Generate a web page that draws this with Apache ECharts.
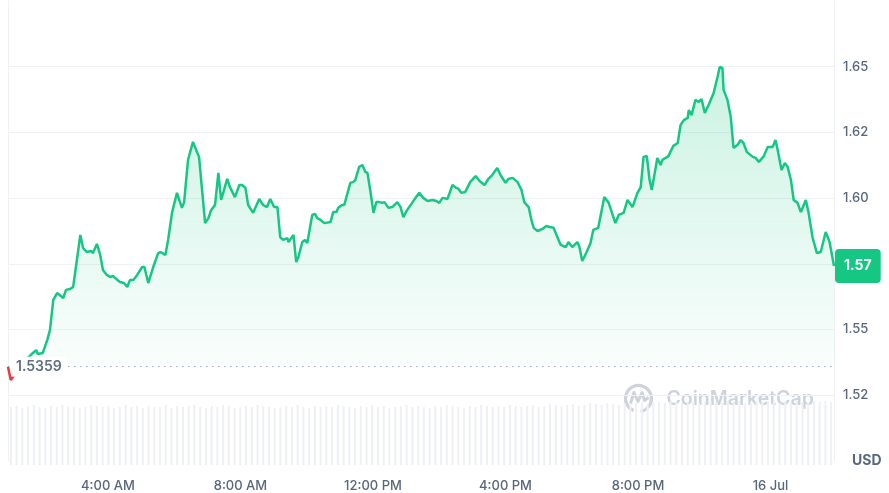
<!DOCTYPE html>
<html>
<head>
<meta charset="utf-8">
<title>Price chart</title>
<script src="https://cdn.jsdelivr.net/npm/echarts@6/dist/echarts.min.js"></script>
<style>
  html, body { margin: 0; padding: 0; background: #fff; }
  #chart { width: 889px; height: 493px; }
</style>
</head>
<body>
<div id="chart"></div>
<script>
// --- 数据 ---
// 起始时间 00:59 (7/15)，单位：分钟
const startMinute = 59
const endMinute = 1555
const openPrice = 1.5359

// 相对起点的分钟偏移
const minutes = [
  0, 5, 29, 45, 51, 54, 63, 71, 76, 82,
  89, 92, 100, 105, 112, 118, 123, 131, 136, 143,
  150, 154, 161, 167, 172, 179, 185, 190, 198, 203,
  210, 216, 221, 227, 234, 243, 247, 254, 257, 263,
  272, 276, 285, 290, 297, 306, 315, 319, 326, 335,
  343, 346, 352, 357, 363, 368, 375, 381, 386, 397,
  402, 411, 419, 424, 430, 435, 444, 455, 462, 469,
  475, 482, 488, 493, 498, 506, 508, 517, 522, 526,
  533, 538, 542, 551, 556, 560, 566, 573, 584, 589,
  595, 598, 605, 609, 620, 625, 629, 636, 642, 647,
  651, 656, 662, 667, 673, 678, 682, 689, 696, 705,
  711, 716, 723, 732, 738, 745, 752, 760, 769, 776,
  781, 787, 790, 796, 799, 805, 812, 816, 821, 828,
  837, 847, 854, 863, 870, 877, 886, 892, 901, 906,
  914, 923, 930, 935, 943, 948, 952, 959, 968, 975,
  981, 988, 1001, 1010, 1015, 1022, 1031, 1035, 1040, 1048,
  1055, 1060, 1069, 1080, 1088, 1100, 1106, 1115, 1122, 1131,
  1140, 1146, 1151, 1157, 1162, 1166, 1169, 1176, 1182, 1185,
  1196, 1205, 1213, 1218, 1224, 1231, 1233, 1238, 1245, 1251,
  1256, 1262, 1269, 1278, 1285, 1289, 1294, 1296, 1303, 1309,
  1314, 1321, 1327, 1332, 1338, 1341, 1349, 1354, 1360, 1369,
  1376, 1385, 1390, 1394, 1401, 1407, 1412, 1418, 1423, 1430,
  1436, 1445, 1450, 1457, 1465, 1472, 1481, 1488, 1496
]

const prices = [
  1.5359, 1.5308, 1.5377, 1.5411, 1.5422, 1.5407, 1.5411, 1.5460, 1.5498, 1.5613,
  1.5639, 1.5643, 1.5620, 1.5651, 1.5654, 1.5662, 1.5738, 1.5860, 1.5810, 1.5795,
  1.5799, 1.5791, 1.5826, 1.5784, 1.5727, 1.5708, 1.5700, 1.5704, 1.5689, 1.5681,
  1.5677, 1.5662, 1.5689, 1.5689, 1.5708, 1.5738, 1.5738, 1.5677, 1.5677, 1.5738,
  1.5791, 1.5795, 1.5784, 1.5841, 1.5944, 1.6020, 1.5963, 1.5985, 1.6145, 1.6214,
  1.6172, 1.6157, 1.6020, 1.5905, 1.5924, 1.5955, 1.5974, 1.6096, 1.5993, 1.6073,
  1.6042, 1.6004, 1.6050, 1.6050, 1.6039, 1.5974, 1.5944, 1.5997, 1.5974, 1.5966,
  1.5997, 1.5966, 1.5966, 1.5852, 1.5841, 1.5848, 1.5833, 1.5860, 1.5757, 1.5776,
  1.5833, 1.5841, 1.5829, 1.5936, 1.5940, 1.5924, 1.5917, 1.5905, 1.5909, 1.5947,
  1.5947, 1.5963, 1.5974, 1.5974, 1.6058, 1.6061, 1.6069, 1.6119, 1.6126, 1.6100,
  1.6096, 1.6031, 1.5944, 1.5985, 1.5985, 1.5982, 1.5985, 1.5963, 1.5966, 1.5985,
  1.5966, 1.5928, 1.5955, 1.5982, 1.6001, 1.6020, 1.6001, 1.5989, 1.5993, 1.5989,
  1.5982, 1.6001, 1.6004, 1.5997, 1.6004, 1.6050, 1.6039, 1.6035, 1.6020, 1.6023,
  1.6061, 1.6084, 1.6065, 1.6050, 1.6073, 1.6088, 1.6115, 1.6088, 1.6058, 1.6073,
  1.6077, 1.6061, 1.6031, 1.5985, 1.5966, 1.5917, 1.5887, 1.5875, 1.5883, 1.5894,
  1.5890, 1.5887, 1.5822, 1.5814, 1.5833, 1.5814, 1.5833, 1.5814, 1.5761, 1.5795,
  1.5829, 1.5879, 1.5887, 1.6004, 1.5982, 1.5905, 1.5936, 1.5944, 1.5993, 1.5966,
  1.6020, 1.6042, 1.6157, 1.6160, 1.6069, 1.6031, 1.6027, 1.6153, 1.6126, 1.6145,
  1.6160, 1.6199, 1.6210, 1.6278, 1.6297, 1.6305, 1.6335, 1.6316, 1.6374, 1.6366,
  1.6377, 1.6324, 1.6355, 1.6400, 1.6461, 1.6499, 1.6495, 1.6412, 1.6374, 1.6309,
  1.6191, 1.6202, 1.6221, 1.6210, 1.6176, 1.6183, 1.6157, 1.6153, 1.6138, 1.6160,
  1.6195, 1.6195, 1.6221, 1.6183, 1.6107, 1.6134, 1.6119, 1.6069, 1.5993, 1.5982,
  1.5947, 1.5993, 1.5944, 1.5852, 1.5791, 1.5795, 1.5871, 1.5833, 1.5742
]

// 成交量（10 分钟一根，底部浅灰柱）
const volumes = [
  58, 59, 57, 59, 60, 58, 57, 59, 58, 60, 59, 58,
  57, 58, 60, 59, 58, 59, 57, 58, 60, 58, 59, 57,
  59, 58, 58, 60, 57, 59, 58, 59, 60, 58, 57, 59,
  58, 60, 59, 57, 58, 59, 58, 60, 59, 58, 57, 58,
  59, 58, 60, 58, 57, 59, 58, 59, 58, 60, 59, 58,
  57, 59, 58, 60, 58, 59, 57, 58, 59, 60, 58, 59,
  58, 57, 59, 58, 60, 59, 58, 57, 59, 58, 60, 59,
  58, 59, 58, 60, 59, 58, 59, 60, 58, 59, 61, 60,
  59, 60, 61, 59, 60, 62, 61, 60, 62, 61, 60, 62,
  61, 62, 63, 61, 62, 63, 62, 64, 63, 62, 63, 64,
  62, 63, 64, 63, 62, 64, 63, 64, 62, 63, 64, 63,
  64, 63, 62, 64, 63, 64, 63, 62, 64, 63, 64, 63
]

const xTickMinutes = [240, 480, 720, 960, 1200, 1440]
const xTickLabels = ['4:00 AM', '8:00 AM', '12:00 PM', '4:00 PM', '8:00 PM', '16 Jul']
const yTickValues = [1.525, 1.55, 1.575, 1.6, 1.625, 1.65]
const yTickLabels = ['1.52', '1.55', '1.57', '1.60', '1.62', '1.65']

// --- 样式 ---
const GREEN = '#16c784'
const RED = '#ea3943'
const AXIS_TEXT = '#58667e'
const GRID_LINE = '#eff2f5'
const FONT = 'Inter, "Noto Sans", sans-serif'

const priceData = minutes.map((m, i) => [startMinute + m, prices[i]])
const lastPrice = prices[prices.length - 1]

const chart = echarts.init(document.getElementById('chart'))

chart.setOption({
  animation: false,
  textStyle: { fontFamily: FONT },
  grid: [
    { left: 8, right: 55, top: 1, bottom: 32 },
    { left: 8, right: 55, top: 395, bottom: 28 }
  ],
  xAxis: [
    {
      type: 'value',
      gridIndex: 0,
      min: startMinute,
      max: endMinute,
      axisLine: { show: false },
      axisTick: { show: false },
      splitLine: { show: false },
      axisLabel: {
        customValues: xTickMinutes,
        formatter: (v) => xTickLabels[xTickMinutes.indexOf(v)] || '',
        margin: 19,
        color: AXIS_TEXT,
        fontSize: 13,
        fontWeight: 500
      }
    },
    {
      type: 'category',
      gridIndex: 1,
      data: volumes.map((_, i) => i),
      show: false
    }
  ],
  yAxis: [
    {
      type: 'value',
      gridIndex: 0,
      position: 'right',
      min: 1.5,
      max: 1.675,
      interval: 0.025,
      axisLine: { show: true, lineStyle: { color: GRID_LINE } },
      axisTick: { show: false },
      splitLine: {
        show: true,
        showMinLine: false,
        showMaxLine: false,
        lineStyle: { color: GRID_LINE }
      },
      axisLabel: {
        margin: 9,
        color: AXIS_TEXT,
        fontSize: 13,
        fontWeight: 500,
        showMinLabel: false,
        showMaxLabel: false,
        formatter: (v) => {
          const i = yTickValues.findIndex((t) => Math.abs(t - v) < 1e-9)
          return i < 0 ? '' : yTickLabels[i]
        }
      },
      name: 'USD',
      nameLocation: 'start',
      nameGap: 0,
      nameTextStyle: {
        color: AXIS_TEXT,
        fontSize: 14,
        fontWeight: 700,
        align: 'left',
        verticalAlign: 'middle',
        padding: [0, 0, 0, 18]
      }
    },
    {
      // 左侧边框线
      type: 'value',
      gridIndex: 0,
      position: 'left',
      min: 1.5,
      max: 1.675,
      axisLine: { show: true, lineStyle: { color: GRID_LINE } },
      axisTick: { show: false },
      axisLabel: { show: false },
      splitLine: { show: false }
    },
    {
      type: 'value',
      gridIndex: 1,
      min: 0,
      max: 70,
      show: false
    }
  ],
  visualMap: {
    type: 'piecewise',
    show: false,
    seriesIndex: 0,
    dimension: 1,
    pieces: [
      { gte: 1.4, lt: openPrice, color: RED },
      { gte: openPrice, lte: 1.8, color: GREEN }
    ]
  },
  series: [
    {
      type: 'line',
      xAxisIndex: 0,
      yAxisIndex: 0,
      data: priceData,
      symbol: 'none',
      z: 3,
      lineStyle: { width: 2.5 },
      areaStyle: {
        origin: openPrice,
        color: new echarts.graphic.LinearGradient(0, 0, 0, 1, [
          { offset: 0, color: 'rgba(22,199,132,0.32)' },
          { offset: 1, color: 'rgba(22,199,132,0.02)' }
        ])
      },
      markLine: {
        silent: true,
        symbol: 'none',
        animation: false,
        precision: 4,
        data: [
          {
            yAxis: openPrice,
            lineStyle: { type: [1.5, 4.5], color: '#a1a7bb', width: 1 },
            label: {
              show: true,
              position: 'insideStartTop',
              distance: [4, 0],
              verticalAlign: 'middle',
              formatter: openPrice.toFixed(4),
              color: '#616e85',
              fontSize: 14,
              fontWeight: 600,
              backgroundColor: '#fff',
              padding: [3, 5, 3, 4]
            }
          },
          {
            yAxis: lastPrice,
            lineStyle: { width: 0, color: 'rgba(0,0,0,0)' },
            label: {
              show: true,
              position: 'end',
              distance: 1,
              formatter: lastPrice.toFixed(2),
              color: '#fff',
              fontSize: 14,
              fontWeight: 700,
              backgroundColor: GREEN,
              borderRadius: 4,
              padding: [10, 9, 10, 9]
            }
          }
        ]
      }
    },
    {
      type: 'bar',
      xAxisIndex: 1,
      yAxisIndex: 2,
      data: volumes,
      barWidth: 2,
      silent: true,
      z: 1,
      itemStyle: { color: '#eef0f4' }
    }
  ],
  graphic: [
    {
      type: 'group',
      left: 623,
      top: 383,
      silent: true,
      z: 0,
      children: [
        {
          type: 'arc',
          shape: { cx: 15, cy: 15, r: 13, startAngle: Math.PI * 0.62, endAngle: Math.PI * 2.45 },
          style: { fill: 'none', stroke: '#cdd2dc', lineWidth: 3.2 }
        },
        {
          type: 'polyline',
          shape: { points: [[7, 20], [10.5, 9], [14.5, 18], [18.5, 9], [21, 17], [25, 14]] },
          style: { fill: 'none', stroke: '#cdd2dc', lineWidth: 3, lineJoin: 'round' }
        },
        {
          type: 'text',
          x: 43,
          y: 16,
          style: {
            text: 'CoinMarketCap',
            fontFamily: FONT,
            fontSize: 19.5,
            fontWeight: 600,
            fill: '#cdd2dc',
            verticalAlign: 'middle'
          }
        }
      ]
    }
  ]
})
</script>
</body>
</html>
